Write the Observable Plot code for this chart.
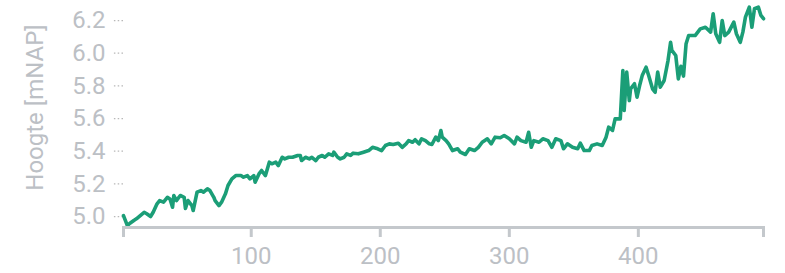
<!DOCTYPE html>
<html>
<head>
<meta charset="utf-8">
<script src="https://cdn.jsdelivr.net/npm/d3@7"></script>
<script src="https://cdn.jsdelivr.net/npm/@observablehq/plot@0.6"></script>
<style>
  html, body { margin: 0; padding: 0; background: #fff; }
  #chart { width: 785px; height: 273px; }
</style>
</head>
<body>
<div id="chart"></div>
<script>
const yLabel = "Hoogte [mNAP]";
const xTicks = [1, 100, 200, 300, 400, 497];
const xTickLabels = ["", "100", "200", "300", "400", ""];
const yTicks = [5.0, 5.2, 5.4, 5.6, 5.8, 6.0, 6.2];

const index = [1,4,6,9,11,14,17,19,22,24,27,29,32,35,37,39,40,42,45,48,49,51,54,55,58,61,63,66,68,71,72,75,77,80,82,85,88,92,94,97,99,102,103,106,108,111,114,116,119,121,124,126,129,132,136,138,139,142,145,147,150,152,155,157,160,163,164,167,169,172,174,177,179,183,187,191,194,198,201,204,207,210,214,217,220,222,225,227,230,232,235,238,240,243,245,247,248,251,253,256,260,262,266,269,273,276,279,283,286,289,293,296,300,304,306,309,313,315,317,319,323,326,330,333,336,340,342,345,349,353,355,358,362,364,368,372,375,377,380,382,386,388,389,391,393,394,397,399,401,403,406,408,411,413,415,417,420,423,425,426,429,431,433,435,437,439,444,448,452,456,458,460,463,465,467,470,474,476,479,481,483,486,488,490,493,495,497];
const hoogte = [5.006,4.945,4.959,4.976,4.986,5.006,5.026,5.017,5.000,5.026,5.078,5.098,5.088,5.118,5.108,5.057,5.129,5.098,5.129,5.118,5.049,5.098,5.067,5.037,5.149,5.159,5.149,5.170,5.159,5.118,5.098,5.067,5.088,5.139,5.190,5.231,5.251,5.251,5.241,5.251,5.231,5.251,5.210,5.261,5.282,5.251,5.333,5.323,5.333,5.312,5.363,5.353,5.363,5.363,5.374,5.374,5.343,5.363,5.353,5.363,5.343,5.363,5.374,5.363,5.384,5.374,5.394,5.363,5.353,5.363,5.384,5.374,5.388,5.384,5.394,5.404,5.424,5.415,5.404,5.435,5.445,5.441,5.449,5.424,5.445,5.465,5.455,5.470,5.445,5.476,5.465,5.445,5.441,5.486,5.465,5.527,5.486,5.465,5.445,5.404,5.415,5.394,5.380,5.415,5.404,5.424,5.455,5.476,5.445,5.486,5.482,5.496,5.476,5.445,5.486,5.465,5.455,5.516,5.424,5.465,5.455,5.476,5.465,5.424,5.476,5.465,5.415,5.445,5.424,5.415,5.449,5.404,5.404,5.435,5.445,5.435,5.486,5.547,5.527,5.598,5.598,5.894,5.649,5.884,5.710,5.782,5.813,5.731,5.802,5.863,5.914,5.863,5.782,5.761,5.884,5.792,5.833,5.955,6.067,6.017,5.986,5.843,5.920,5.860,6.058,6.108,6.108,6.149,6.159,6.129,6.241,6.119,6.067,6.200,6.108,6.129,6.190,6.119,6.067,6.129,6.221,6.282,6.159,6.272,6.282,6.231,6.211];

const data = index.map((d, i) => ({x: d, y: hoogte[i]}));

const textColor = "#bcc0c5";
const axisColor = "#c4c8cc";

const chart = Plot.plot({
  width: 785,
  height: 273,
  marginTop: 5,
  marginBottom: 46,
  marginLeft: 123,
  marginRight: 22,
  style: {fontFamily: "Roboto", fontSize: "24px", color: textColor, background: "#fff", overflow: "visible"},
  x: {domain: [1, 497]},
  y: {domain: [4.933, 6.292]},
  marks: [
    Plot.axisY({
      ticks: yTicks,
      tickFormat: d3.format(".1f"),
      tickSize: 10,
      tickPadding: 8,
      stroke: "#b8b8b8",
      strokeWidth: 1.3,
      strokeDasharray: "1.5,2.3",
      fill: textColor,
      label: null
    }),
    Plot.text([yLabel], {
      frameAnchor: "left",
      textAnchor: "middle",
      lineAnchor: "middle",
      rotate: -90,
      dx: -88,
      dy: -9,
      fill: textColor,
      fontSize: 24
    }),
    Plot.line(data, {x: "x", y: "y", stroke: "#1b9e77", strokeWidth: 3.6, strokeLinejoin: "round"}),
    Plot.frame({anchor: "bottom", stroke: axisColor, strokeWidth: 3}),
    Plot.axisX({
      ticks: xTicks,
      tickFormat: (d, i) => xTickLabels[xTicks.indexOf(d)],
      tickSize: 10,
      tickPadding: 9,
      stroke: axisColor,
      strokeWidth: 3,
      fill: textColor,
      label: null
    })
  ]
});

document.getElementById("chart").appendChild(chart);
</script>
</body>
</html>
